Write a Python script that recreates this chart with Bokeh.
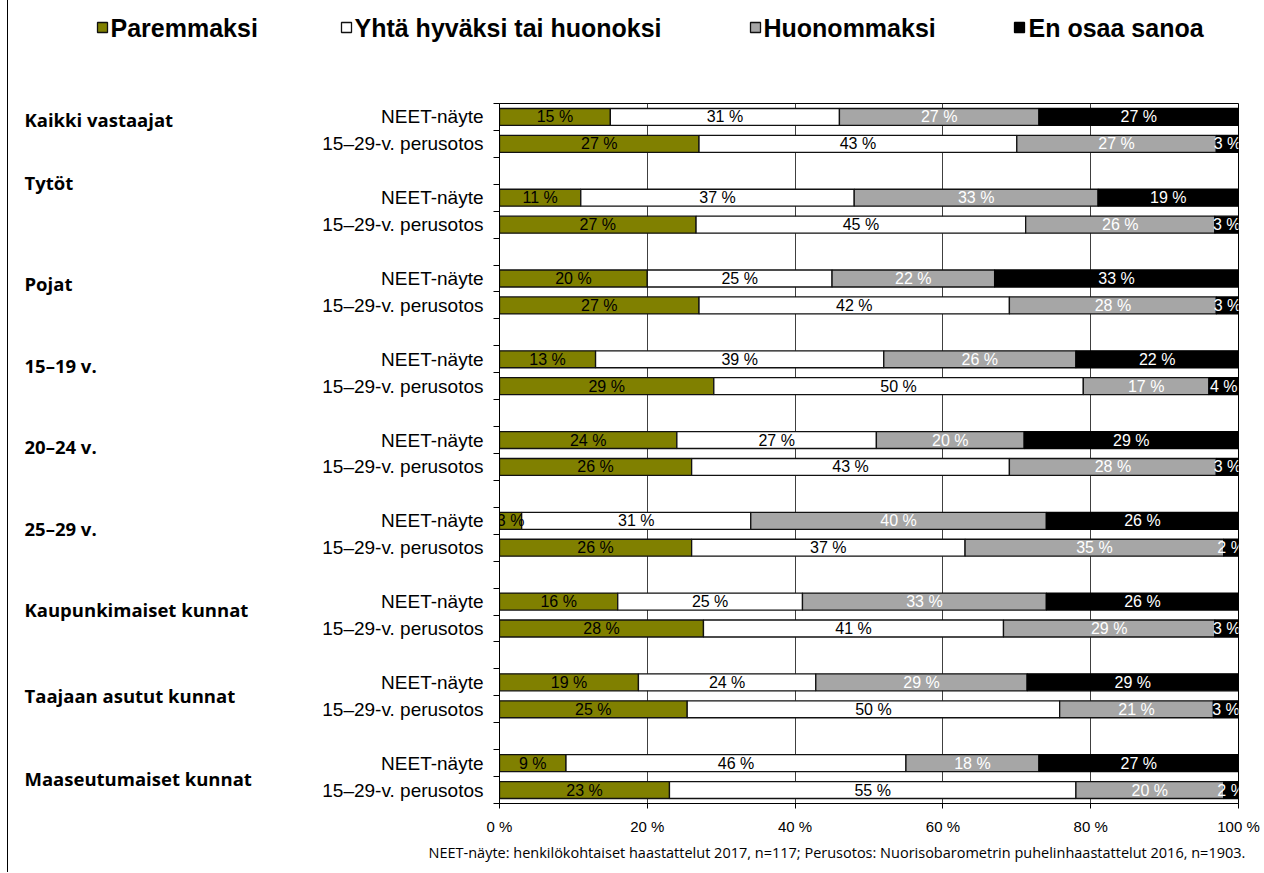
from bokeh.plotting import figure
from bokeh.models import Range1d, FixedTicker, ColumnDataSource
from bokeh.layouts import column, row
from bokeh.embed import file_html
from bokeh.resources import INLINE
from bokeh.core.properties import value

# ---------------- data ----------------
groups = ["Kaikki vastaajat", "Tytöt", "Pojat", "15–19 v.", "20–24 v.", "25–29 v.",
          "Kaupunkimaiset kunnat", "Taajaan asutut kunnat", "Maaseutumaiset kunnat"]
samples = ["NEET-näyte", "15–29-v. perusotos"]
series = ["Paremmaksi", "Yhtä hyväksi tai huonoksi", "Huonommaksi", "En osaa sanoa"]

neet_paremmaksi = [15, 11, 20, 13, 24, 3, 16, 18.8, 9]
neet_yhta = [31, 37, 25, 39, 27, 31, 25, 24.0, 46]
neet_huonommaksi = [27, 33, 22, 26, 20, 40, 33, 28.6, 18]
neet_eos = [27, 19, 33, 22, 29, 26, 26, 28.6, 27]

perus_paremmaksi = [27, 26.6, 27, 29, 26, 26, 27.6, 25.4, 23]
perus_yhta = [43, 44.6, 42, 50, 43, 37, 40.6, 50.4, 55]
perus_huonommaksi = [27, 25.6, 28, 17, 28, 35, 28.6, 20.8, 20]
perus_eos = [3, 3.2, 3, 4, 3, 2, 3.2, 3.4, 2]

x_ticks = [0, 20, 40, 60, 80, 100]
x_tick_labels = ["0 %", "20 %", "40 %", "60 %", "80 %", "100 %"]

footnote = ("NEET-näyte: henkilökohtaiset haastattelut 2017,  n=117; "
            "Perusotos: Nuorisobarometrin puhelinhaastattelut 2016, n=1903.")

# ---------------- styles / layout ----------------
colors = ["#808000", "#FFFFFF", "#A6A6A6", "#000000"]
edge_colors = ["#111111", "#111111", "#111111", "#000000"]
label_colors = ["black", "black", "white", "white"]
group_label_y = [0.59, 2.95, 6.69, 9.73, 12.74, 15.79, 18.80, 21.99, 25.07]
legend_sq_x = [94, 338, 747, 1011]
legend_txt_x = [102, 346, 755, 1020]

TOTAL_W = 1255
LEG_H = 98
MAIN_H = 5 + 700 + 34
FOOT_H = 35
GROUPS_W = 300
MAIN_W = 955


def bare(fig):
    fig.axis.visible = False
    fig.grid.visible = False
    fig.outline_line_color = None
    fig.background_fill_color = None
    fig.border_fill_color = None
    return fig


neet = [neet_paremmaksi, neet_yhta, neet_huonommaksi, neet_eos]
perus = [perus_paremmaksi, perus_yhta, perus_huonommaksi, perus_eos]

rows_y = []
for g in range(len(groups)):
    rows_y += [3 * g + 0.5, 3 * g + 1.5]
series_vals = [[v for g in range(len(groups)) for v in (neet[s][g], perus[s][g])]
               for s in range(4)]

# ---------------- main chart ----------------
p = figure(width=MAIN_W, height=MAIN_H, output_backend="svg", toolbar_location=None,
           x_range=Range1d(0, 100), y_range=Range1d(26, 0),
           min_border_left=191, min_border_right=25, min_border_top=5,
           min_border_bottom=34)
p.outline_line_color = "black"
p.outline_line_width = 1

left = [0.0] * len(rows_y)
text_sources = []
for s in range(4):
    vals = series_vals[s]
    right = [l + v for l, v in zip(left, vals)]
    cds = ColumnDataSource(dict(y=rows_y, left=left, right=right,
                                mid=[(l + r) / 2 for l, r in zip(left, right)],
                                lab=[f"{int(v + 0.5)} %" for v in vals]))
    p.hbar(y="y", left="left", right="right", height=0.63, source=cds,
           fill_color=colors[s], line_color=edge_colors[s], line_width=1.3)
    text_sources.append(cds)
    left = right

for s, cds in enumerate(text_sources):
    p.text(x="mid", y="y", text="lab", source=cds, text_align="center",
           text_baseline="middle", text_font=value("Liberation Sans"),
           text_font_size="16px", text_color=label_colors[s])

p.xaxis.ticker = FixedTicker(ticks=x_ticks)
p.xaxis.major_label_overrides = {t: l for t, l in zip(x_ticks, x_tick_labels)}
p.xaxis.major_tick_out = 5
p.xaxis.major_tick_in = 0
p.xaxis.minor_tick_out = 0
p.xaxis.minor_tick_in = 0
p.xaxis.axis_line_color = "black"
p.xaxis.major_tick_line_color = "black"
p.xaxis.major_label_text_font = "Liberation Sans"
p.xaxis.major_label_text_font_size = "15px"
p.xaxis.major_label_text_color = "black"
p.xaxis.major_label_standoff = 9

p.xgrid.ticker = FixedTicker(ticks=[20, 40, 60, 80])
p.xgrid.grid_line_color = "#404040"
p.xgrid.grid_line_width = 1
p.ygrid.visible = False

p.yaxis.ticker = FixedTicker(ticks=rows_y, minor_ticks=list(range(27)))
p.yaxis.major_label_overrides = {y: samples[i % 2] for i, y in enumerate(rows_y)}
p.yaxis.major_tick_out = 0
p.yaxis.major_tick_in = 0
p.yaxis.minor_tick_out = 6
p.yaxis.minor_tick_in = 0
p.yaxis.minor_tick_line_color = "black"
p.yaxis.axis_line_color = "black"
p.yaxis.major_label_text_font = "Liberation Sans"
p.yaxis.major_label_text_font_size = "19px"
p.yaxis.major_label_text_color = "black"
p.yaxis.major_label_standoff = 10

# ---------------- group labels (left) ----------------
g_fig = bare(figure(width=GROUPS_W, height=MAIN_H, output_backend="svg",
                    toolbar_location=None, x_range=Range1d(0, GROUPS_W),
                    y_range=p.y_range, min_border_left=0, min_border_right=0,
                    min_border_top=5, min_border_bottom=34))
g_fig.text(x=[16] * len(groups), y=group_label_y, text=groups,
           text_font=value("Open Sans"), text_font_style="bold",
           text_font_size="18.5px", text_color="black",
           text_align="left", text_baseline="middle")

# ---------------- legend (top) ----------------
leg = bare(figure(width=TOTAL_W, height=LEG_H, output_backend="svg",
                  toolbar_location=None, x_range=Range1d(0, TOTAL_W),
                  y_range=Range1d(LEG_H, 0), min_border=0))
leg.rect(x=legend_sq_x, y=[27] * 4, width=10, height=10, fill_color=colors,
         line_color=edge_colors, line_width=1.3)
leg.text(x=legend_txt_x, y=[27] * 4, text=series,
         text_font=value("Liberation Sans"), text_font_style="bold",
         text_font_size="25px", text_color="black",
         text_align="left", text_baseline="middle")

# ---------------- footnote (bottom) ----------------
foot = bare(figure(width=TOTAL_W, height=FOOT_H, output_backend="svg",
                   toolbar_location=None, x_range=Range1d(0, TOTAL_W),
                   y_range=Range1d(FOOT_H, 0), min_border=0))
foot.text(x=[420], y=[15], text=[footnote], text_font=value("Open Sans"),
          text_font_size="14.5px", text_color="black",
          text_align="left", text_baseline="middle")

layout = column(leg, row(g_fig, p), foot,
                styles={"margin-left": "7px", "border-left": "1px solid black"})

open("out.html", "w").write(file_html(layout, INLINE))
